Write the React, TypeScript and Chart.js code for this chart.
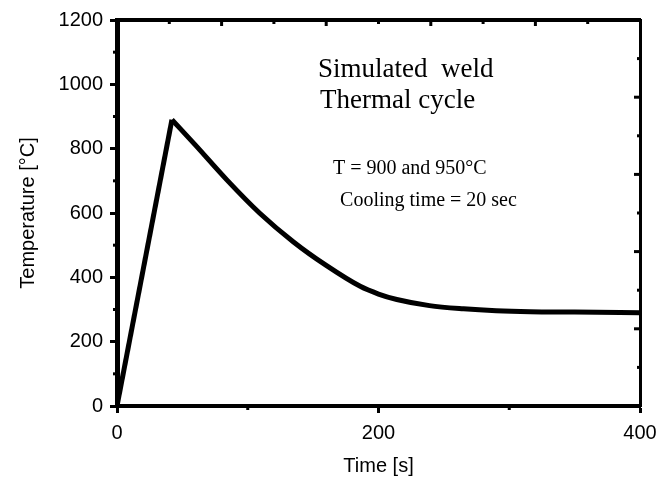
import React, { useEffect, useRef } from "react";
import { Chart, registerables } from "chart.js";

Chart.register(...registerables);

// Data
const timeS = [0, 42, 60, 84, 109, 135, 160, 186, 200, 214, 239, 265, 290, 316, 350, 400];
const tempC = [0, 890, 811, 703, 600, 510, 437, 372, 348, 331, 312, 302, 296, 293, 292, 290];

const xTickValues = [0, 200, 400];
const yTickValues = [0, 200, 400, 600, 800, 1000, 1200];
const xMinorTicks = [100, 300];
const yMinorTicks = [100, 300, 500, 700, 900, 1100];
const topMajorTicks = [80, 160, 240, 320];
const topMinorTicks = [40, 120, 200, 280, 360];
const rightMajorTicks = [960, 720, 480, 240];
const rightMinorTicks = [1080, 840, 600, 360, 120];

const noteLines = ["Simulated  weld", "Thermal cycle", "T = 900 and 950°C", "Cooling time = 20 sec"];
const noteAnchorX = [153.7, 155.3, 165.2, 170.6];
const noteAnchorY = [1023, 926, 721, 622];
const noteFontSize = [27, 27, 20, 20];

const SANS = "'Liberation Sans', Arial, sans-serif";
const SERIF = "'Liberation Serif', 'Times New Roman', serif";

const extrasPlugin = {
  id: "extras",
  afterDraw(chart: any) {
    const { ctx } = chart;
    const xs = chart.scales.x;
    const ys = chart.scales.y;
    const area = chart.chartArea;
    ctx.save();
    ctx.strokeStyle = "#000";
    ctx.lineCap = "butt";
    ctx.lineWidth = 3;
    yMinorTicks.forEach((v) => {
      const p = ys.getPixelForValue(v);
      ctx.beginPath();
      ctx.moveTo(area.left - 4, p);
      ctx.lineTo(area.left, p);
      ctx.stroke();
    });
    xMinorTicks.forEach((v) => {
      const p = xs.getPixelForValue(v);
      ctx.beginPath();
      ctx.moveTo(p, area.bottom);
      ctx.lineTo(p, area.bottom + 4);
      ctx.stroke();
    });
    topMajorTicks.forEach((v) => {
      const p = xs.getPixelForValue(v);
      ctx.beginPath();
      ctx.moveTo(p, area.top);
      ctx.lineTo(p, area.top + 6);
      ctx.stroke();
    });
    topMinorTicks.forEach((v) => {
      const p = xs.getPixelForValue(v);
      ctx.beginPath();
      ctx.moveTo(p, area.top);
      ctx.lineTo(p, area.top + 4);
      ctx.stroke();
    });
    rightMajorTicks.forEach((v) => {
      const p = ys.getPixelForValue(v);
      ctx.beginPath();
      ctx.moveTo(area.right, p);
      ctx.lineTo(area.right - 6, p);
      ctx.stroke();
    });
    rightMinorTicks.forEach((v) => {
      const p = ys.getPixelForValue(v);
      ctx.beginPath();
      ctx.moveTo(area.right, p);
      ctx.lineTo(area.right - 3, p);
      ctx.stroke();
    });
    ctx.fillStyle = "#000";
    ctx.textAlign = "left";
    ctx.textBaseline = "alphabetic";
    noteLines.forEach((t, i) => {
      ctx.font = `${noteFontSize[i]}px ${SERIF}`;
      ctx.fillText(t, xs.getPixelForValue(noteAnchorX[i]), ys.getPixelForValue(noteAnchorY[i]));
    });
    ctx.restore();
  },
};

export default function App() {
  const ref = useRef<HTMLCanvasElement | null>(null);
  useEffect(() => {
    if (!ref.current) return;
    const pts = timeS.map((t, i) => ({ x: t, y: tempC[i] }));
    const chart = new Chart(ref.current, {
      type: "line",
      data: {
        datasets: [
          {
            data: pts.slice(0, 2),
            borderColor: "#000",
            borderWidth: 5,
            pointRadius: 0,
            tension: 0,
            borderJoinStyle: "miter",
          },
          {
            data: pts.slice(1),
            borderColor: "#000",
            borderWidth: 5,
            pointRadius: 0,
            cubicInterpolationMode: "monotone",
            borderJoinStyle: "round",
          },
        ],
      },
      options: {
        animation: false,
        responsive: false,
        events: [],
        layout: { padding: 0 },
        plugins: { legend: { display: false }, tooltip: { enabled: false }, title: { display: false } },
        scales: {
          x: {
            type: "linear",
            position: "bottom",
            min: 0,
            max: 400,
            afterFit: (s: any) => { s.height = 73; s.paddingLeft = 0; s.paddingRight = 0; },
            afterBuildTicks: (s: any) => { s.ticks = xTickValues.map((v) => ({ value: v })); },
            ticks: { color: "#000", padding: 8, font: { size: 20, family: SANS }, maxRotation: 0, callback: (v: any) => String(v) },
            grid: { drawOnChartArea: false, drawTicks: true, tickLength: 7, tickWidth: 3, tickColor: "#000" },
            border: { display: true, color: "#000", width: 4 },
            title: { display: true, text: "Time [s]", color: "#000", font: { size: 20, family: SANS }, padding: { top: 0, bottom: 1 } },
          },
          y: {
            type: "linear",
            position: "left",
            min: 0,
            max: 1200,
            afterFit: (s: any) => { s.width = 117; s.paddingTop = 0; s.paddingBottom = 0; },
            afterBuildTicks: (s: any) => { s.ticks = yTickValues.map((v) => ({ value: v })); },
            ticks: { color: "#000", padding: 7, font: { size: 20, family: SANS }, callback: (v: any) => String(v) },
            grid: { drawOnChartArea: false, drawTicks: true, tickLength: 7, tickWidth: 3, tickColor: "#000" },
            border: { display: true, color: "#000", width: 5 },
            title: { display: true, text: "Temperature [°C]", color: "#000", font: { size: 20, family: SANS }, padding: { top: 16, bottom: 0 } },
          },
          x2: {
            type: "linear",
            position: "top",
            min: 0,
            max: 400,
            afterFit: (s: any) => { s.height = 20; s.paddingLeft = 0; s.paddingRight = 0; },
            ticks: { display: false },
            grid: { drawOnChartArea: false, drawTicks: false },
            border: { display: true, color: "#000", width: 4 },
          },
          y2: {
            type: "linear",
            position: "right",
            min: 0,
            max: 1200,
            afterFit: (s: any) => { s.width = 19; s.paddingTop = 0; s.paddingBottom = 0; },
            ticks: { display: false },
            grid: { drawOnChartArea: false, drawTicks: false },
            border: { display: true, color: "#000", width: 3 },
          },
        },
      } as any,
      plugins: [extrasPlugin],
    });
    return () => chart.destroy();
  }, []);
  return (
    <div style={{ position: "fixed", left: 0, top: 0, width: 659, height: 479, background: "#fff" }}>
      <canvas ref={ref} width={659} height={479} style={{ display: "block" }} />
    </div>
  );
}
